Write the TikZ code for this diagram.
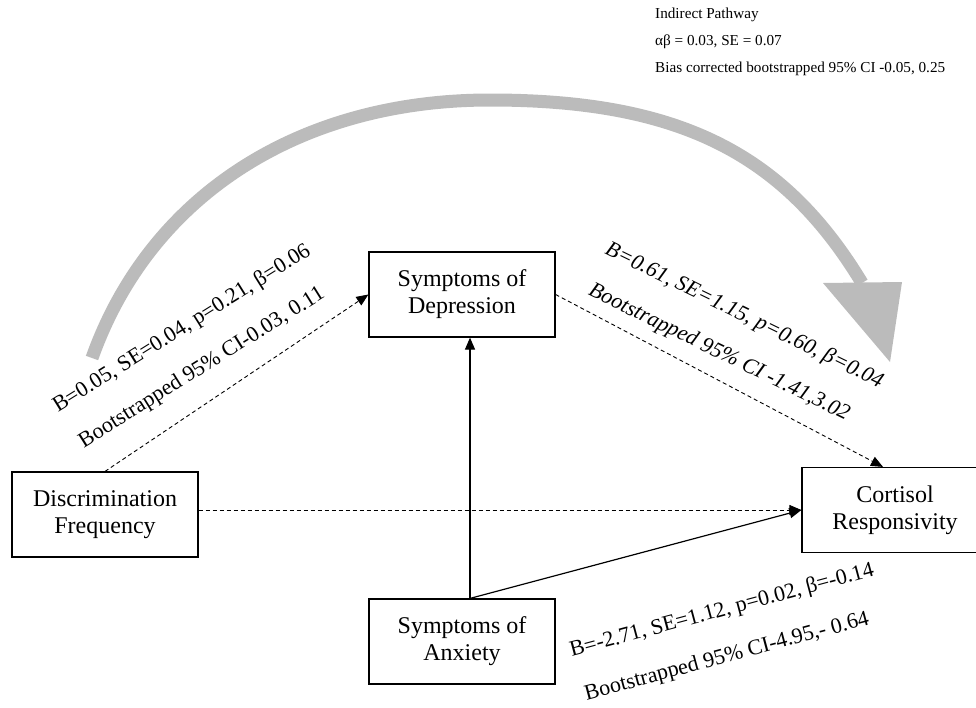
\documentclass[tikz,border=0pt]{standalone}
\usepackage{fontspec}
\setmainfont{Liberation Serif}
\usetikzlibrary{arrows.meta}
\definecolor{arcgray}{RGB}{187,187,187}
\tikzset{box/.style={draw,line width=1.2pt,minimum width=186pt,minimum height=85pt,inner sep=0pt,align=center,font=\fontsize{24}{27}\selectfont},
dashline/.style={line width=.9pt,dash pattern=on 4pt off 3pt,-{Triangle[length=12pt,width=10pt]}},
solidline/.style={line width=1.2pt,-{Triangle[length=12pt,width=10pt]}},
lbl/.style={inner sep=0pt,font=\fontsize{22}{26}\selectfont}}

\begin{document}
\begin{tikzpicture}[x=1pt,y=-1pt]
\path[use as bounding box,clip] (0,0) rectangle (976,707);
\draw[arcgray,line width=13pt] (92,358) .. controls (150,195) and (300,100) .. (490,100) .. controls (680,100) and (784,154) .. (862,283);
\fill[arcgray] (823,283) -- (902,282) -- (890,362) -- cycle;
\node[anchor=north west,inner sep=0pt,align=left,font=\fontsize{15.2}{27}\selectfont] (ind) at (655,8) {Indirect Pathway\\αβ = 0.03, SE = 0.07\\Bias corrected bootstrapped 95\% CI -0.05, 0.25};
\node[box] (disc) at (105,514.5) {Discrimination\\Frequency};
\node[box] (dep) at (462,294.5) {Symptoms of\\Depression};
\node[box] (anx) at (462,641.5) {Symptoms of\\Anxiety};
\node[box] (cort) at (895,510) {Cortisol\\Responsivity};
\draw[dashline] (disc.north) -- (dep.west);
\draw[dashline] (dep.east) -- ([xshift=-12pt]cort.north);
\draw[dashline] (disc.east |- cort.west) -- (cort.west);
\draw[solidline] ([xshift=8pt]anx.north) -- ([xshift=8pt]dep.south);
\draw[solidline] ([xshift=8pt]anx.north) -- (cort.west);
\node[lbl,rotate=32] (dfa) at (182,329) {B=0.05, SE=0.04, p=0.21, β=0.06};
\node[lbl,rotate=32] (dfb) at (202,368) {Bootstrapped 95\% CI-0.03, 0.11};
\node[lbl,rotate=-26,font=\fontsize{22}{26}\selectfont\itshape] (dca) at (744,316) {B=0.61, SE=1.15, p=0.60, β=0.04};
\node[lbl,rotate=-26,font=\fontsize{22}{26}\selectfont\itshape] (dcb) at (719,353) {Bootstrapped 95\% CI -1.41,3.02};
\node[lbl,rotate=15] (aca) at (722,611) {B=-2.71, SE=1.12, p=0.02, β=-0.14};
\node[lbl,rotate=15] (acb) at (727,657) {Bootstrapped 95\% CI-4.95,- 0.64};
\end{tikzpicture}
\end{document}
